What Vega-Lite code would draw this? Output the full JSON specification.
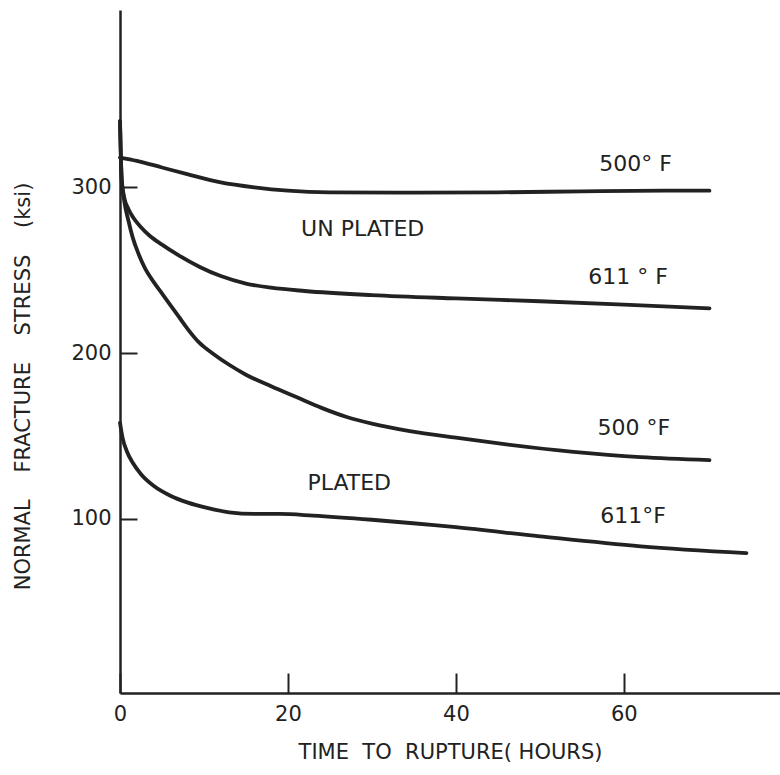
{
  "$schema": "https://vega.github.io/schema/vega-lite/v6.json",
  "width": 660,
  "height": 683,
  "autosize": {"type": "none"},
  "padding": {"left": 120, "top": 10, "right": 0, "bottom": 82},
  "background": "white",
  "config": {"view": {"stroke": null}, "font": "DejaVu Sans"},
  "datasets": {
    "curves": [
      {"series": "Unplated 500F", "hours": 0, "stress": 318},
      {"series": "Unplated 500F", "hours": 2, "stress": 316},
      {"series": "Unplated 500F", "hours": 5, "stress": 312},
      {"series": "Unplated 500F", "hours": 8, "stress": 308},
      {"series": "Unplated 500F", "hours": 12, "stress": 303},
      {"series": "Unplated 500F", "hours": 16, "stress": 300},
      {"series": "Unplated 500F", "hours": 20, "stress": 298},
      {"series": "Unplated 500F", "hours": 25, "stress": 297},
      {"series": "Unplated 500F", "hours": 35, "stress": 296.8},
      {"series": "Unplated 500F", "hours": 45, "stress": 297},
      {"series": "Unplated 500F", "hours": 55, "stress": 297.6},
      {"series": "Unplated 500F", "hours": 65, "stress": 298},
      {"series": "Unplated 500F", "hours": 70.2, "stress": 298},

      {"series": "Unplated 611F", "hours": 0, "stress": 340},
      {"series": "Unplated 611F", "hours": 0.2, "stress": 305},
      {"series": "Unplated 611F", "hours": 0.5, "stress": 294},
      {"series": "Unplated 611F", "hours": 1, "stress": 287},
      {"series": "Unplated 611F", "hours": 1.55, "stress": 282},
      {"series": "Unplated 611F", "hours": 2.5, "stress": 276},
      {"series": "Unplated 611F", "hours": 3.5, "stress": 271},
      {"series": "Unplated 611F", "hours": 5, "stress": 265.5},
      {"series": "Unplated 611F", "hours": 7, "stress": 259},
      {"series": "Unplated 611F", "hours": 9.5, "stress": 252},
      {"series": "Unplated 611F", "hours": 12, "stress": 246.5},
      {"series": "Unplated 611F", "hours": 15, "stress": 242},
      {"series": "Unplated 611F", "hours": 18, "stress": 239.5},
      {"series": "Unplated 611F", "hours": 22, "stress": 237.5},
      {"series": "Unplated 611F", "hours": 30, "stress": 235},
      {"series": "Unplated 611F", "hours": 40, "stress": 233},
      {"series": "Unplated 611F", "hours": 50, "stress": 231.3},
      {"series": "Unplated 611F", "hours": 60, "stress": 229.3},
      {"series": "Unplated 611F", "hours": 70.2, "stress": 227},

      {"series": "Plated 500F", "hours": 0, "stress": 340},
      {"series": "Plated 500F", "hours": 0.2, "stress": 305},
      {"series": "Plated 500F", "hours": 0.5, "stress": 292},
      {"series": "Plated 500F", "hours": 1, "stress": 280},
      {"series": "Plated 500F", "hours": 1.5, "stress": 270},
      {"series": "Plated 500F", "hours": 2.2, "stress": 260},
      {"series": "Plated 500F", "hours": 3, "stress": 251},
      {"series": "Plated 500F", "hours": 4, "stress": 243},
      {"series": "Plated 500F", "hours": 5, "stress": 236},
      {"series": "Plated 500F", "hours": 6, "stress": 229},
      {"series": "Plated 500F", "hours": 7, "stress": 222},
      {"series": "Plated 500F", "hours": 8, "stress": 215},
      {"series": "Plated 500F", "hours": 9.5, "stress": 206},
      {"series": "Plated 500F", "hours": 11, "stress": 200},
      {"series": "Plated 500F", "hours": 13, "stress": 193},
      {"series": "Plated 500F", "hours": 15, "stress": 187},
      {"series": "Plated 500F", "hours": 18, "stress": 180},
      {"series": "Plated 500F", "hours": 21, "stress": 173.5},
      {"series": "Plated 500F", "hours": 24, "stress": 167},
      {"series": "Plated 500F", "hours": 27, "stress": 161.5},
      {"series": "Plated 500F", "hours": 30, "stress": 157.5},
      {"series": "Plated 500F", "hours": 34.5, "stress": 153},
      {"series": "Plated 500F", "hours": 40, "stress": 149},
      {"series": "Plated 500F", "hours": 46, "stress": 145},
      {"series": "Plated 500F", "hours": 54, "stress": 140.5},
      {"series": "Plated 500F", "hours": 62, "stress": 137.3},
      {"series": "Plated 500F", "hours": 70.2, "stress": 135.5},

      {"series": "Plated 611F", "hours": 0, "stress": 158},
      {"series": "Plated 611F", "hours": 0.3, "stress": 149},
      {"series": "Plated 611F", "hours": 0.8, "stress": 141},
      {"series": "Plated 611F", "hours": 1.5, "stress": 134},
      {"series": "Plated 611F", "hours": 2.5, "stress": 127},
      {"series": "Plated 611F", "hours": 4, "stress": 120},
      {"series": "Plated 611F", "hours": 6, "stress": 114},
      {"series": "Plated 611F", "hours": 8, "stress": 110},
      {"series": "Plated 611F", "hours": 10.5, "stress": 106.5},
      {"series": "Plated 611F", "hours": 13, "stress": 104},
      {"series": "Plated 611F", "hours": 16, "stress": 103},
      {"series": "Plated 611F", "hours": 19, "stress": 103},
      {"series": "Plated 611F", "hours": 23, "stress": 102},
      {"series": "Plated 611F", "hours": 30, "stress": 99.5},
      {"series": "Plated 611F", "hours": 40, "stress": 95},
      {"series": "Plated 611F", "hours": 50, "stress": 89.5},
      {"series": "Plated 611F", "hours": 62, "stress": 83.5},
      {"series": "Plated 611F", "hours": 74.6, "stress": 79.4}
    ],
    "labels": [
      {"label": "500°\u00a0F", "hours": 61.4, "stress": 314},
      {"label": "UN\u00a0PLATED", "hours": 28.9, "stress": 274.6},
      {"label": "611\u00a0°\u00a0F", "hours": 60.5, "stress": 246.2},
      {"label": "500\u00a0°F", "hours": 61.2, "stress": 154.8},
      {"label": "PLATED", "hours": 27.3, "stress": 121.7},
      {"label": "611°F", "hours": 61.1, "stress": 102}
    ]
  },
  "layer": [
    {
      "data": {"name": "curves"},
      "mark": {"type": "line", "interpolate": "monotone", "color": "#222", "strokeWidth": 3.8, "strokeCap": "round", "strokeJoin": "round"},
      "encoding": {
        "x": {
          "field": "hours", "type": "quantitative",
          "scale": {"domain": [0, 78.6], "nice": false, "zero": false},
          "axis": {
            "values": [0, 20, 40, 60], "grid": false,
            "tickSize": -20, "tickWidth": 2, "tickColor": "#222",
            "domainColor": "#222", "domainWidth": 2.5,
            "labelPadding": 30, "labelFontSize": 21, "labelColor": "#222", "labelFont": "DejaVu Sans",
            "labelFlush": false, "labelOverlap": false,
            "title": "TIME\u00a0\u00a0TO\u00a0\u00a0RUPTURE(\u00a0HOURS)", "titleFontSize": 21, "titleFontWeight": "normal",
            "titleColor": "#222", "titleFont": "DejaVu Sans",
            "titleX": 330, "titleY": 59, "titleBaseline": "middle", "titleAlign": "center"
          }
        },
        "y": {
          "field": "stress", "type": "quantitative",
          "scale": {"domain": [-5, 407], "nice": false, "zero": false},
          "axis": {
            "values": [100, 200, 300], "grid": false,
            "tickSize": -17, "tickWidth": 2, "tickColor": "#222",
            "domainColor": "#222", "domainWidth": 2.5,
            "labelPadding": 26, "labelFontSize": 21, "labelColor": "#222", "labelFont": "DejaVu Sans",
            "labelFlush": false, "labelOverlap": false,
            "title": "NORMAL\u00a0\u00a0\u00a0 FRACTURE\u00a0\u00a0\u00a0 STRESS\u00a0\u00a0\u00a0 (ksi)", "titleFontSize": 21, "titleFontWeight": "normal",
            "titleColor": "#222", "titleFont": "DejaVu Sans",
            "titleX": -97, "titleY": 376, "titleAngle": 270, "titleBaseline": "middle", "titleAlign": "center"
          }
        },
        "detail": {"field": "series", "type": "nominal"}
      }
    },
    {
      "data": {"name": "labels"},
      "mark": {"type": "text", "fontSize": 22, "color": "#222", "baseline": "middle", "align": "center", "font": "DejaVu Sans"},
      "encoding": {
        "x": {"field": "hours", "type": "quantitative"},
        "y": {"field": "stress", "type": "quantitative"},
        "text": {"field": "label", "type": "nominal"}
      }
    }
  ]
}
